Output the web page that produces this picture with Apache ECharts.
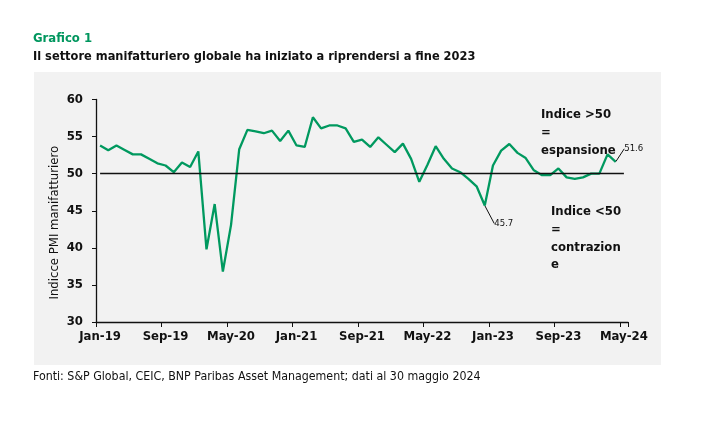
<!DOCTYPE html>
<html>
<head>
<meta charset="utf-8">
<script src="https://cdn.jsdelivr.net/npm/echarts@6/dist/echarts.min.js"></script>
<style>
html,body{margin:0;padding:0;background:#fff;}
#chart{width:716px;height:425px;}
</style>
</head>
<body>
<div id="chart"></div>
<script>
const months = [
 'Jan-19','Feb-19','Mar-19','Apr-19','May-19','Jun-19','Jul-19','Aug-19','Sep-19','Oct-19','Nov-19','Dec-19',
 'Jan-20','Feb-20','Mar-20','Apr-20','May-20','Jun-20','Jul-20','Aug-20','Sep-20','Oct-20','Nov-20','Dec-20',
 'Jan-21','Feb-21','Mar-21','Apr-21','May-21','Jun-21','Jul-21','Aug-21','Sep-21','Oct-21','Nov-21','Dec-21',
 'Jan-22','Feb-22','Mar-22','Apr-22','May-22','Jun-22','Jul-22','Aug-22','Sep-22','Oct-22','Nov-22','Dec-22',
 'Jan-23','Feb-23','Mar-23','Apr-23','May-23','Jun-23','Jul-23','Aug-23','Sep-23','Oct-23','Nov-23','Dec-23',
 'Jan-24','Feb-24','Mar-24','Apr-24','May-24'
];
const pmi = [
 53.8,53.15,53.8,53.2,52.6,52.6,52.0,51.4,51.1,50.2,51.5,50.9,
 53.0,39.8,45.9,36.8,43.1,53.3,55.9,55.7,55.45,55.8,54.4,55.8,
 53.8,53.6,57.6,56.1,56.5,56.5,56.1,54.3,54.6,53.6,54.9,53.9,
 52.9,54.05,52.0,48.9,51.2,53.7,52.0,50.7,50.2,49.3,48.3,45.7,
 51.1,53.1,54.0,52.8,52.1,50.45,49.8,49.8,50.7,49.5,49.3,49.5,
 50.0,50.0,52.6,51.6
];
const yTicks = { min: 30, max: 60, interval: 5 };
const threshold = 50;
const labelledPoints = { 47: '45.7', 63: '51.6' };
const labelOffsets = { 47: { dx: 7, dy: 18 }, 63: { dx: 6, dy: -13 } };

const FONT = "'DejaVu Sans Condensed','Liberation Sans',sans-serif";
const GREEN = '#00995f';

const seriesData = pmi.map((v, i) => {
  if (labelledPoints[i]) {
    return {
      value: v,
      symbol: 'circle',
      symbolSize: 1,
      itemStyle: { color: 'rgba(0,0,0,0)', borderWidth: 0 },
      label: {
        show: true, position: 'right', distance: 2,
        formatter: labelledPoints[i],
        fontSize: 9.5, color: '#111', fontFamily: FONT
      },
      labelLine: { show: true, lineStyle: { color: '#111', width: 1 } }
    };
  }
  return v;
});

const chart = echarts.init(document.getElementById('chart'), null, { renderer: 'canvas' });
chart.setOption({
  animation: false,
  backgroundColor: '#ffffff',
  graphic: [{
    type: 'rect', z: -10, silent: true,
    shape: { x: 34, y: 72, width: 627, height: 293 },
    style: { fill: '#f2f2f2' }
  }],
  title: [
    { text: 'Grafico 1', left: 33, top: 32, padding: 0,
      textStyle: { color: '#00965e', fontSize: 13, fontWeight: 'bold', fontFamily: FONT } },
    { text: 'Il settore manifatturiero globale ha iniziato a riprendersi a fine 2023', left: 33, top: 50, padding: 0,
      textStyle: { color: '#111', fontSize: 12.7, fontWeight: 'bold', fontFamily: FONT } },
    { text: 'Fonti: S&P Global, CEIC, BNP Paribas Asset Management; dati al 30 maggio 2024', left: 33, top: 371, padding: 0,
      textStyle: { color: '#111', fontSize: 12.3, fontWeight: 'normal', fontFamily: FONT } },
    { text: 'Indice >50\n=\nespansione', left: 541, top: 106, padding: 0,
      textStyle: { color: '#111', fontSize: 13, fontWeight: 'bold', lineHeight: 18, fontFamily: FONT } },
    { text: 'Indice <50\n=\ncontrazion\ne', left: 551, top: 203, padding: 0,
      textStyle: { color: '#111', fontSize: 13, fontWeight: 'bold', lineHeight: 17.7, fontFamily: FONT } }
  ],
  grid: { left: 96, right: 88, top: 99.5, bottom: 103, containLabel: false },
  xAxis: {
    type: 'category',
    data: months,
    boundaryGap: true,
    axisLine: { lineStyle: { color: '#111', width: 1.3 } },
    axisTick: { show: true, interval: 7, length: 5, lineStyle: { color: '#111' } },
    axisLabel: { interval: 7, margin: 8, color: '#111', fontSize: 13, fontWeight: 'bold', fontFamily: FONT },
    splitLine: { show: false }
  },
  yAxis: {
    type: 'value',
    min: yTicks.min, max: yTicks.max, interval: yTicks.interval,
    name: 'Indicce PMI manifatturiero',
    nameLocation: 'middle',
    nameGap: 35,
    nameMoveOverlap: false,
    nameTextStyle: { color: '#111', fontSize: 13, fontFamily: FONT, padding: [0, 24, 0, 0] },
    axisLine: { show: true, lineStyle: { color: '#111', width: 1.3 } },
    axisTick: { show: true, length: 4, lineStyle: { color: '#111' } },
    axisLabel: { margin: 13, color: '#111', fontSize: 13, fontWeight: 'bold', fontFamily: FONT },
    splitLine: { show: false }
  },
  series: [{
    type: 'line',
    data: seriesData,
    symbol: 'none',
    showAllSymbol: true,
    lineStyle: { color: GREEN, width: 2.3 },
    itemStyle: { color: GREEN },
    labelLayout: function (p) {
      const o = labelOffsets[p.dataIndex];
      return o ? { dx: o.dx, dy: o.dy } : {};
    },
    markLine: {
      silent: true,
      symbol: 'none',
      label: { show: false },
      lineStyle: { color: '#111', width: 1.3, type: 'solid' },
      data: [[
        { coord: [months[0], threshold] },
        { coord: [months[months.length - 1], threshold] }
      ]]
    },
    z: 3
  }]
});
</script>
</body>
</html>
